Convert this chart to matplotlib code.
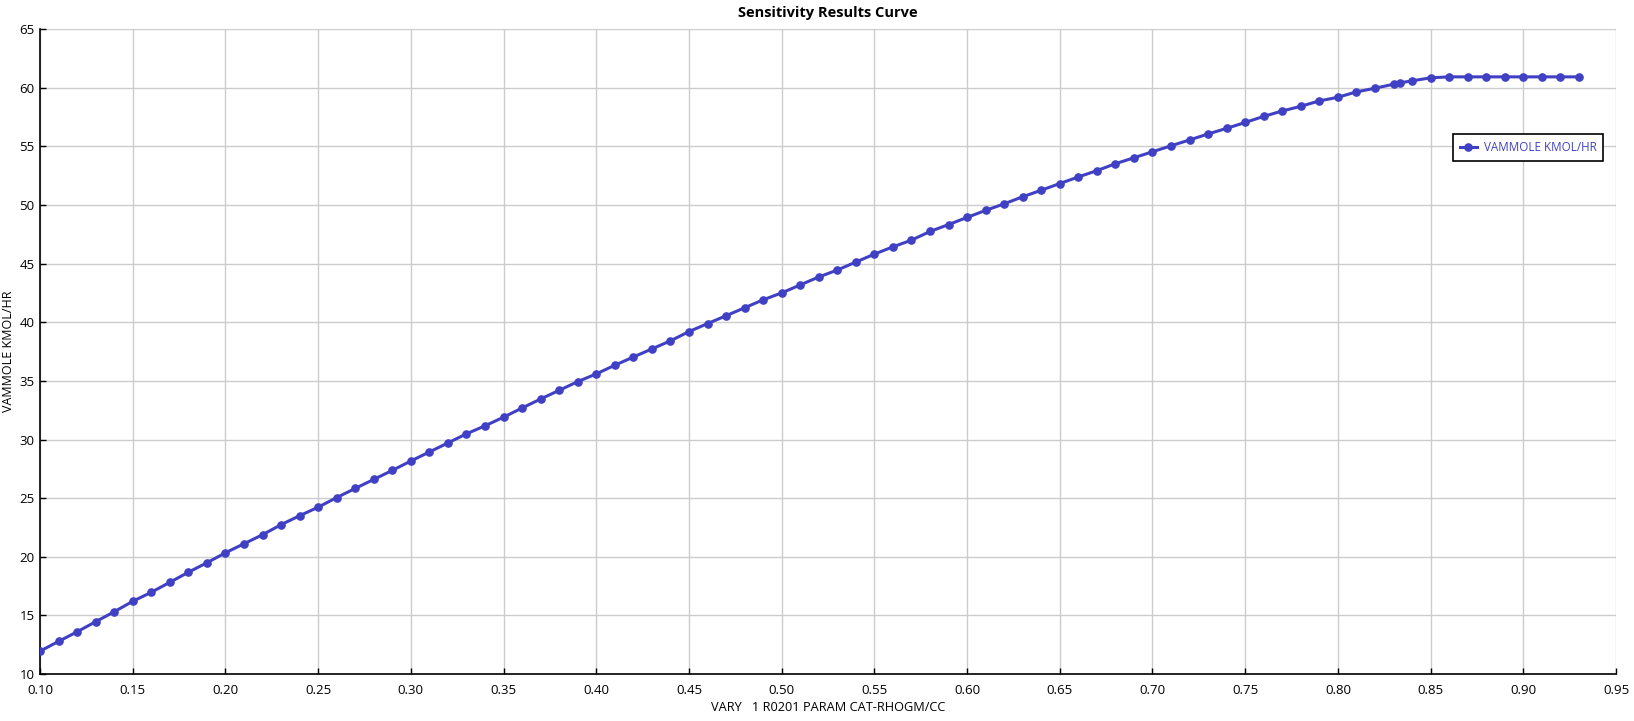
#!/usr/bin/env python3

import matplotlib
matplotlib.use("Agg")
import matplotlib.pyplot as plt
from matplotlib.ticker import FormatStrFormatter

# sensitivity case: catalyst density vs VAM production
cat_rho = [0.10, 0.11, 0.12, 0.13, 0.14, 0.15, 0.16, 0.17, 0.18, 0.19,
           0.20, 0.21, 0.22, 0.23, 0.24, 0.25, 0.26, 0.27, 0.28, 0.29,
           0.30, 0.31, 0.32, 0.33, 0.34, 0.35, 0.36, 0.37, 0.38, 0.39,
           0.40, 0.41, 0.42, 0.43, 0.44, 0.45, 0.46, 0.47, 0.48, 0.49,
           0.50, 0.51, 0.52, 0.53, 0.54, 0.55, 0.56, 0.57, 0.58, 0.59,
           0.60, 0.61, 0.62, 0.63, 0.64, 0.65, 0.66, 0.67, 0.68, 0.69,
           0.70, 0.71, 0.72, 0.73, 0.74, 0.75, 0.76, 0.77, 0.78, 0.79,
           0.80, 0.81, 0.82, 0.83, 0.8333, 0.84, 0.85, 0.86, 0.87, 0.88,
           0.89, 0.90, 0.91, 0.92, 0.93]
vammole = [11.95, 12.78, 13.60, 14.46, 15.31, 16.20, 16.97, 17.82, 18.68, 19.49,
           20.34, 21.11, 21.88, 22.74, 23.50, 24.23, 25.05, 25.83, 26.60, 27.37,
           28.17, 28.94, 29.71, 30.49, 31.17, 31.91, 32.69, 33.46, 34.20, 34.94,
           35.60, 36.34, 37.04, 37.73, 38.42, 39.21, 39.89, 40.56, 41.24, 41.92,
           42.51, 43.19, 43.87, 44.46, 45.14, 45.82, 46.44, 47.01, 47.75, 48.34,
           48.95, 49.55, 50.11, 50.71, 51.27, 51.84, 52.40, 52.94, 53.53, 54.04,
           54.55, 55.06, 55.56, 56.07, 56.55, 57.05, 57.57, 58.03, 58.43, 58.89,
           59.20, 59.66, 59.97, 60.31, 60.43, 60.60, 60.86, 60.94, 60.94, 60.94,
           60.94, 60.94, 60.94, 60.94, 60.94]

x_ticks = [0.10, 0.15, 0.20, 0.25, 0.30, 0.35, 0.40, 0.45, 0.50, 0.55,
           0.60, 0.65, 0.70, 0.75, 0.80, 0.85, 0.90, 0.95]
y_ticks = [10, 15, 20, 25, 30, 35, 40, 45, 50, 55, 60, 65]

line_color = '#4040c4'

plt.rcParams['font.family'] = ['Open Sans', 'DejaVu Sans']


def plot_results():
	fig = plt.figure(figsize=(16.34, 7.21), dpi=100)
	ax = fig.add_axes([0.0245, 0.0652, 0.9645, 0.8942])

	ax.plot(cat_rho, vammole, color=line_color, linewidth=2.2,
	        marker='o', markersize=5.2, label='VAMMOLE KMOL/HR', zorder=3)

	ax.set_xlim([0.10, 0.95])
	ax.set_ylim([10, 65])
	ax.set_xticks(x_ticks)
	ax.set_yticks(y_ticks)
	ax.xaxis.set_major_formatter(FormatStrFormatter('%.2f'))
	ax.tick_params(direction='in', length=4, width=1, labelsize=9.5, pad=7)
	ax.tick_params(axis='y', pad=4)
	ax.grid(True, color='#cccccc', linewidth=1)
	ax.set_axisbelow(True)
	for side in ['top', 'right']:
		ax.spines[side].set_visible(False)
	for side in ['left', 'bottom']:
		ax.spines[side].set_linewidth(1.2)

	ax.set_xlabel('VARY   1 R0201 PARAM CAT-RHOGM/CC', fontsize=9.2, labelpad=3)
	ax.set_ylabel('VAMMOLE KMOL/HR', fontsize=9, labelpad=3)
	ax.set_title('Sensitivity Results Curve', fontsize=10.5, fontweight='bold', pad=9)

	leg = ax.legend(loc='upper left', bbox_to_anchor=(0.893, 0.846), fontsize=8.4,
	                fancybox=False, framealpha=1, edgecolor='black',
	                borderpad=0.6, handlelength=1.4, handletextpad=0.6,
	                labelcolor=line_color)
	leg.get_frame().set_linewidth(1.2)

	fig.savefig('out.png', dpi=100)


if __name__ == '__main__':
	plot_results()
